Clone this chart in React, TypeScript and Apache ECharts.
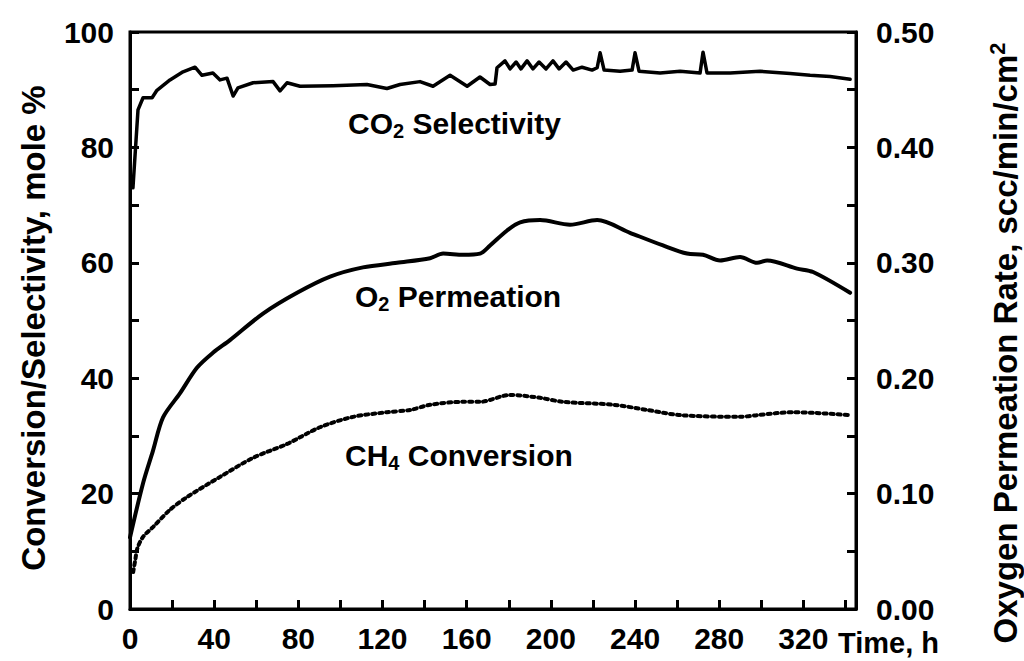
import React, { useEffect, useRef } from "react";
import * as echarts from "echarts";

// ---- Data ----
const co2Hours = [1.4, 3.8, 6.2, 10.5, 12.8, 19.0, 25.2, 30.9, 34.2, 39.4, 42.8, 46.1, 49.0, 51.3, 58.5, 68.0, 71.3, 74.6, 80.8, 96.5, 112.6, 122.1, 128.3, 137.8, 144.0, 152.1, 160.2, 166.3, 171.1, 173.5, 174.4, 178.2, 180.6, 183.5, 185.8, 188.7, 191.5, 194.4, 197.7, 201.0, 203.9, 207.2, 210.6, 214.8, 219.6, 222.0, 223.4, 225.3, 232.9, 238.6, 240.0, 241.9, 251.9, 261.4, 270.9, 272.3, 274.2, 285.2, 299.4, 313.7, 323.2, 332.7, 342.2];
const co2Selectivity = [73.0, 86.5, 88.6, 88.6, 89.9, 91.7, 93.1, 93.9, 92.5, 92.9, 91.7, 92.0, 88.9, 90.3, 91.2, 91.4, 89.8, 91.2, 90.6, 90.7, 90.9, 90.2, 90.9, 91.4, 90.6, 92.5, 90.6, 92.2, 90.9, 91.0, 93.8, 95.0, 93.6, 94.8, 93.6, 95.0, 93.6, 94.8, 93.6, 95.0, 93.6, 94.8, 93.4, 93.9, 93.4, 93.8, 96.4, 93.4, 93.2, 93.4, 96.4, 93.2, 92.9, 93.2, 92.9, 96.5, 92.9, 92.9, 93.2, 92.8, 92.5, 92.3, 91.8];

const o2Hours = [0, 6.2, 10.9, 15.7, 23.8, 31.8, 39.4, 47.5, 63.2, 79.4, 95.1, 110.7, 126.9, 142.6, 148.8, 158.3, 166.3, 171.1, 179.2, 185.4, 194.9, 209.1, 222.0, 237.6, 253.3, 264.7, 272.3, 280.4, 289.9, 298.0, 302.8, 317.0, 324.6, 342.2];
const o2Permeation = [0.062, 0.109, 0.137, 0.166, 0.187, 0.209, 0.222, 0.233, 0.256, 0.274, 0.288, 0.296, 0.300, 0.304, 0.308, 0.307, 0.308, 0.315, 0.328, 0.335, 0.337, 0.333, 0.337, 0.326, 0.315, 0.308, 0.307, 0.302, 0.305, 0.300, 0.302, 0.295, 0.292, 0.274];

const ch4Hours = [1.5, 2.5, 3.5, 6.2, 10.9, 19.0, 27.1, 42.8, 58.5, 74.6, 90.3, 106.0, 122.1, 133.1, 142.6, 158.3, 166.3, 180.6, 194.9, 205.8, 229.6, 245.7, 261.4, 289.9, 298.0, 315.1, 324.6, 342.2];
const ch4Conversion = [6.4, 8.5, 10.5, 12.5, 14.2, 17.2, 19.4, 22.9, 26.2, 28.6, 31.5, 33.3, 34.1, 34.5, 35.4, 35.9, 35.9, 37.1, 36.6, 35.9, 35.4, 34.5, 33.6, 33.3, 33.6, 34.1, 34.0, 33.6];

const xRange = [0, 345];
const leftRange = [0, 100];
const rightRange = [0, 0.5];
const xLabelStep = 40;
const leftLabelStep = 20;

const FONT = "'Liberation Sans', Arial, Helvetica, sans-serif";

export default function App() {
  const ref = useRef<HTMLDivElement>(null);

  useEffect(() => {
    if (!ref.current) return;
    const chart = echarts.init(ref.current, undefined, { renderer: "svg" });

    const labelStyle = {
      color: "#000",
      fontSize: 30,
      fontWeight: "bold" as const,
      fontFamily: FONT,
    };
    const tok = (size: number, lh: number, va?: string) => ({
      fontSize: size,
      lineHeight: lh,
      fontWeight: "bold",
      fontFamily: FONT,
      fill: "#000",
      verticalAlign: va,
    });
    const richAnno = {
      m: tok(30, 36),
      s: tok(20, 14, "bottom"),
    };
    const richTitle = {
      m: tok(33, 38),
      p: tok(22, 22, "top"),
    };

    const option: any = {
      animation: false,
      backgroundColor: "#fff",
      grid: {
        left: 130,
        top: 32,
        width: 726,
        height: 577,
        show: true,
        borderColor: "#000",
        borderWidth: 3,
        backgroundColor: "transparent",
      },
      xAxis: {
        type: "value",
        min: xRange[0],
        max: xRange[1],
        interval: 20,
        axisLine: { show: true, lineStyle: { color: "#000", width: 3 } },
        axisTick: { show: true, inside: true, length: 9, lineStyle: { color: "#000", width: 3 } },
        axisLabel: {
          ...labelStyle,
          margin: 14,
          formatter: (v: number) => (Math.round(v) % xLabelStep === 0 ? String(Math.round(v)) : ""),
        },
        splitLine: { show: false },
      },
      yAxis: [
        {
          type: "value",
          position: "left",
          min: leftRange[0],
          max: leftRange[1],
          interval: 10,
          axisLine: { show: true, lineStyle: { color: "#000", width: 3 } },
          axisTick: { show: true, inside: true, length: 9, lineStyle: { color: "#000", width: 3 } },
          axisLabel: {
            ...labelStyle,
            margin: 16,
            formatter: (v: number) => (Math.round(v) % leftLabelStep === 0 ? String(Math.round(v)) : ""),
          },
          splitLine: { show: false },
        },
        {
          type: "value",
          position: "right",
          min: rightRange[0],
          max: rightRange[1],
          interval: 0.05,
          axisLine: { show: true, lineStyle: { color: "#000", width: 3 } },
          axisTick: { show: true, inside: true, length: 9, lineStyle: { color: "#000", width: 3 } },
          axisLabel: {
            ...labelStyle,
            margin: 20,
            formatter: (v: number) => (Math.round(v * 100) % 10 === 0 ? v.toFixed(2) : ""),
          },
          splitLine: { show: false },
        },
      ],
      series: [
        {
          name: "CO2 Selectivity",
          type: "line",
          yAxisIndex: 0,
          showSymbol: false,
          data: co2Hours.map((h, i) => [h, co2Selectivity[i]]),
          lineStyle: { color: "#000", width: 3.5, join: "round", cap: "round" },
        },
        {
          name: "O2 Permeation",
          type: "line",
          yAxisIndex: 1,
          showSymbol: false,
          smooth: 0.3,
          data: o2Hours.map((h, i) => [h, o2Permeation[i]]),
          lineStyle: { color: "#000", width: 4, join: "round", cap: "round" },
        },
        {
          name: "CH4 Conversion",
          type: "line",
          yAxisIndex: 0,
          showSymbol: false,
          smooth: 0.3,
          data: ch4Hours.map((h, i) => [h, ch4Conversion[i]]),
          lineStyle: { color: "#000", width: 4, type: [3, 4], cap: "round" },
        },
      ],
      graphic: [
        {
          type: "text",
          x: 348,
          y: 123,
          style: { text: "{m|CO}{s|2}{m| Selectivity}", align: "left", verticalAlign: "middle", rich: richAnno, fill: "#000" },
        },
        {
          type: "text",
          x: 355,
          y: 296,
          style: { text: "{m|O}{s|2}{m| Permeation}", align: "left", verticalAlign: "middle", rich: richAnno, fill: "#000" },
        },
        {
          type: "text",
          x: 345,
          y: 455,
          style: { text: "{m|CH}{s|4}{m| Conversion}", align: "left", verticalAlign: "middle", rich: richAnno, fill: "#000" },
        },
        {
          type: "text",
          x: 838,
          y: 643,
          style: { text: "Time, h", align: "left", verticalAlign: "middle", fill: "#000", fontSize: 29, fontWeight: "bold", fontFamily: FONT },
        },
        {
          type: "text",
          x: 33,
          y: 328,
          rotation: Math.PI / 2,
          style: { text: "Conversion/Selectivity, mole %", align: "center", verticalAlign: "middle", fill: "#000", fontSize: 33, fontWeight: "bold", fontFamily: FONT },
        },
        {
          type: "text",
          x: 1005,
          y: 343,
          rotation: Math.PI / 2,
          style: { text: "{m|Oxygen Permeation Rate, scc/min/cm}{p|2}", align: "center", verticalAlign: "middle", rich: richTitle, fill: "#000" },
        },
      ],
    };

    chart.setOption(option);
    return () => chart.dispose();
  }, []);

  return (
    <div
      ref={ref}
      style={{ position: "fixed", left: 0, top: 0, width: 1024, height: 661, background: "#fff" }}
    />
  );
}
